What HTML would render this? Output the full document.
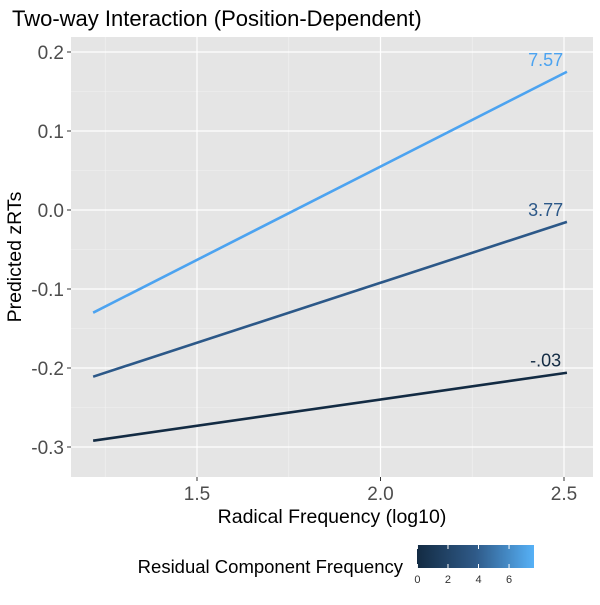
<!DOCTYPE html>
<html><head><meta charset="utf-8"><style>
body{margin:0;background:#fff;}
svg text{font-family:"Liberation Sans",Arial,sans-serif;}
</style></head><body>
<svg id="chart" width="600" height="600" xmlns="http://www.w3.org/2000/svg">
<defs><linearGradient id="cb" x1="0" x2="1" y1="0" y2="0"><stop offset="0" stop-color="#132B43"/><stop offset="0.5" stop-color="#2F5A88"/><stop offset="1" stop-color="#56B1F7"/></linearGradient></defs>
<text x="12" y="26" font-size="22" fill="#000">Two-way Interaction (Position-Dependent)</text>
<rect x="71" y="37" width="522" height="440" fill="#e5e5e5"/>
<g id="grid"></g><g id="lines"></g><g id="axes"></g>
<text x="332" y="523" font-size="19.5" text-anchor="middle">Radical Frequency (log10)</text>
<text transform="translate(21,257) rotate(-90)" font-size="19.5" text-anchor="middle">Predicted zRTs</text>
<text x="403" y="573" font-size="18.5" text-anchor="end">Residual Component Frequency</text>
<rect x="417" y="545" width="117" height="23" fill="url(#cb)"/>
<g id="legend"></g>
</svg>
<script>
const xTicks=[1.5,2.0,2.5];
const xTickLabels=["1.5","2.0","2.5"];
const yTicks=[-0.3,-0.2,-0.1,0.0,0.1,0.2];
const yTickLabels=["-0.3","-0.2","-0.1","0.0","0.1","0.2"];
const xStart=[1.217,1.217,1.217];
const xEnd=[2.508,2.508,2.508];
const yStart=[-0.292,-0.211,-0.130];
const yEnd=[-0.206,-0.015,0.175];
const levels=[-0.03,3.77,7.57];
const levelLabels=["-.03","3.77","7.57"];
const legendTicks=[0,2,4,6];
const NS="http://www.w3.org/2000/svg";
const X=v=>197+(v-1.5)*367;
const Y=v=>210-v*790;
const stops=[[0x13,0x2B,0x43],[0x2C,0x58,0x88],[0x4C,0xA3,0xF0]];
const C=v=>{let t=Math.max(0,Math.min(1,(v+0.03)/7.6))*2;const i=Math.min(1,Math.floor(t));t-=i;const a=stops[i],b=stops[i+1];return `rgb(${a.map((c,k)=>Math.round(c+(b[k]-c)*t)).join(',')})`;};
const LX=v=>417+(v+0.03)/7.6*116;
function mk(p,tag,at){const e=document.createElementNS(NS,tag);for(const k in at)e.setAttribute(k,at[k]);p.appendChild(e);return e;}
const g=document.getElementById('grid'),ln=document.getElementById('lines'),ax=document.getElementById('axes'),lg=document.getElementById('legend');
[1.25,1.75,2.25].forEach(v=>{const e=mk(g,'line',{x1:X(v),x2:X(v),y1:37,y2:477,stroke:'#f2f2f2','stroke-width':0.6});

});
[-0.25,-0.15,-0.05,0.05,0.15].forEach(v=>{const e=mk(g,'line',{x1:71,x2:593,y1:Y(v),y2:Y(v),stroke:'#f2f2f2','stroke-width':0.6});

});
xTicks.forEach((v,i)=>{const e=mk(g,'line',{x1:X(v),x2:X(v),y1:37,y2:477,stroke:'#fff','stroke-width':1.2});


const t=mk(ax,'line',{x1:X(v),x2:X(v),y1:477,y2:481,stroke:'#333'});


const l=mk(ax,'text',{x:X(v),y:500,'font-size':19,'text-anchor':'middle',fill:'#4d4d4d'});l.textContent=xTickLabels[i];

});
yTicks.forEach((v,i)=>{const e=mk(g,'line',{x1:71,x2:593,y1:Y(v),y2:Y(v),stroke:'#fff','stroke-width':1.2});


const t=mk(ax,'line',{x1:67,x2:71,y1:Y(v),y2:Y(v),stroke:'#333'});


const l=mk(ax,'text',{x:64,y:Y(v)+7,'font-size':19,'text-anchor':'end',fill:'#4d4d4d'});l.textContent=yTickLabels[i];

});
levels.forEach((lv,i)=>{const e=mk(ln,'line',{x1:X(xStart[i]),y1:Y(yStart[i]),x2:X(xEnd[i]),y2:Y(yEnd[i]),stroke:C(lv),'stroke-width':2.6});


const t=mk(ln,'text',{x:X(2.45),y:Y(yEnd[i])-6,'font-size':18,'text-anchor':'middle',fill:C(lv)});t.textContent=levelLabels[i];

});
legendTicks.forEach(v=>{const a=mk(lg,'line',{x1:LX(v),x2:LX(v),y1:545,y2:549,stroke:'#fff'});


const b=mk(lg,'line',{x1:LX(v),x2:LX(v),y1:564,y2:568,stroke:'#fff'});


const t=mk(lg,'text',{x:LX(v),y:583,'font-size':11,'text-anchor':'middle',fill:'#333'});t.textContent=v;

});
</script>
</body></html>
